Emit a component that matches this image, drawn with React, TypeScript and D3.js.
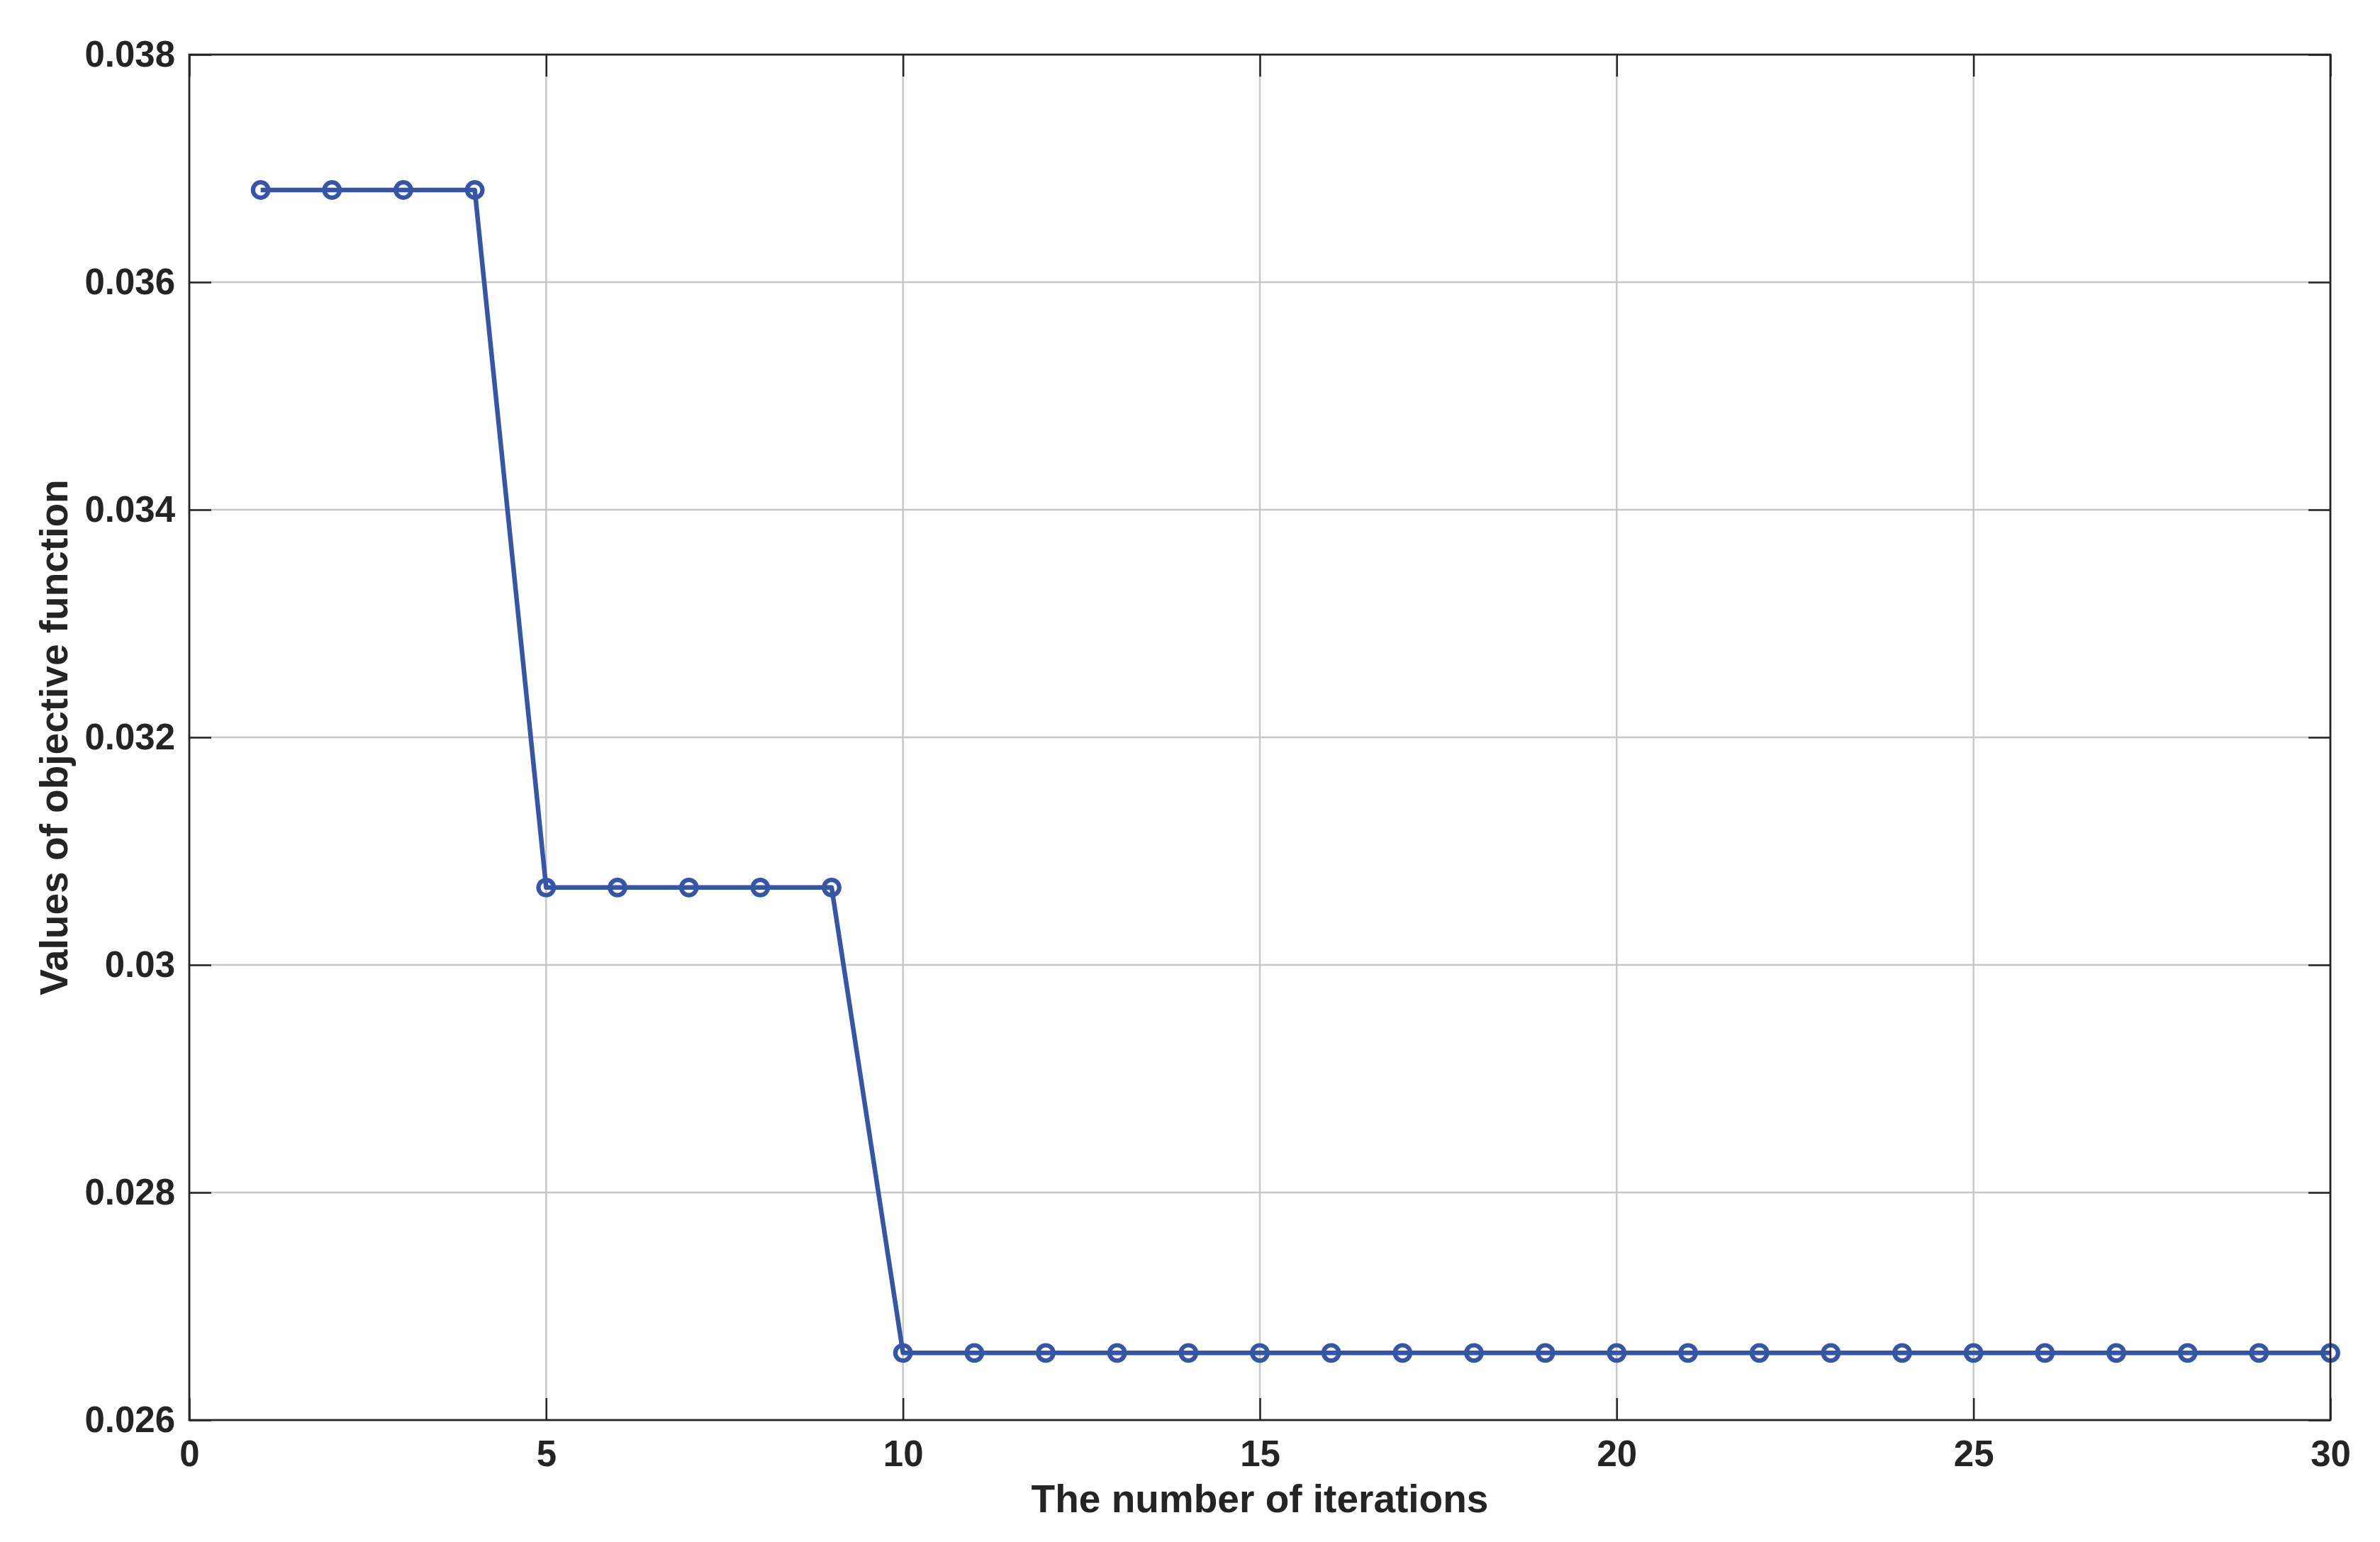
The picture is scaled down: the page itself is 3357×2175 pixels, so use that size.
import React, { useEffect, useRef } from "react";
import * as d3 from "d3";

// iteration index and best objective value at that iteration
const iterations = [
  1, 2, 3, 4, 5, 6, 7, 8, 9, 10, 11, 12, 13, 14, 15, 16, 17, 18, 19, 20, 21,
  22, 23, 24, 25, 26, 27, 28, 29, 30,
];
const objective = [
  0.03681, 0.03681, 0.03681, 0.03681, 0.03068, 0.03068, 0.03068, 0.03068,
  0.03068, 0.02659, 0.02659, 0.02659, 0.02659, 0.02659, 0.02659, 0.02659,
  0.02659, 0.02659, 0.02659, 0.02659, 0.02659, 0.02659, 0.02659, 0.02659,
  0.02659, 0.02659, 0.02659, 0.02659, 0.02659, 0.02659,
];

const xTicks = [0, 5, 10, 15, 20, 25, 30];
const yTicks = [0.026, 0.028, 0.03, 0.032, 0.034, 0.036, 0.038];
const yTickLabels = ["0.026", "0.028", "0.03", "0.032", "0.034", "0.036", "0.038"];

const xTitle = "The number of iterations";
const yTitle = "Values of objective function";

export default function App() {
  const svgRef = useRef<SVGSVGElement | null>(null);

  useEffect(() => {
    const svg = d3.select(svgRef.current);
    svg.selectAll("*").remove();

    const width = 3357,
      height = 2175;
    const left = 267,
      right = 3287,
      top = 77,
      bottom = 2003;

    const x = d3.scaleLinear().domain([0, 30]).range([left, right]);
    const y = d3.scaleLinear().domain([0.026, 0.038]).range([bottom, top]);

    const ink = "#242424";
    const blue = "#3555a6";
    const font = "'Liberation Sans', Arial, Helvetica, sans-serif";

    svg.attr("width", width).attr("height", height);
    svg.append("rect").attr("width", width).attr("height", height).attr("fill", "#fff");

    // grid
    const grid = svg.append("g").attr("stroke", "#c8c8c8").attr("stroke-width", 2.5);
    grid
      .selectAll("line.gx")
      .data(xTicks)
      .enter()
      .append("line")
      .attr("x1", (d) => x(d))
      .attr("x2", (d) => x(d))
      .attr("y1", top)
      .attr("y2", bottom);
    grid
      .selectAll("line.gy")
      .data(yTicks)
      .enter()
      .append("line")
      .attr("x1", left)
      .attr("x2", right)
      .attr("y1", (d) => y(d))
      .attr("y2", (d) => y(d));

    const pts = iterations.map((it, i) => [it, objective[i]] as [number, number]);

    const line = d3
      .line<[number, number]>()
      .x((d) => x(d[0]))
      .y((d) => y(d[1]));

    svg
      .append("path")
      .datum(pts)
      .attr("d", line)
      .attr("fill", "none")
      .attr("stroke", blue)
      .attr("stroke-width", 6.5)
      .attr("stroke-linejoin", "round");

    svg
      .append("g")
      .selectAll("circle")
      .data(pts)
      .enter()
      .append("circle")
      .attr("cx", (d) => x(d[0]))
      .attr("cy", (d) => y(d[1]))
      .attr("r", 10.8)
      .attr("fill", "none")
      .attr("stroke", blue)
      .attr("stroke-width", 6.2);

    // axes (ticks pointing inward, box on)
    const styleAxis = (g: any) => {
      g.select(".domain").remove();
      g.selectAll(".tick line").attr("stroke", ink).attr("stroke-width", 2.5);
      g.selectAll(".tick text")
        .attr("fill", ink)
        .attr("font-family", font)
        .attr("font-weight", "bold")
        .attr("font-size", 51);
    };

    svg
      .append("g")
      .attr("transform", `translate(0,${bottom})`)
      .call(d3.axisBottom(x).tickValues(xTicks).tickSize(-31).tickPadding(29).tickFormat(d3.format("d")) as any)
      .call(styleAxis);

    svg
      .append("g")
      .attr("transform", `translate(0,${top})`)
      .call(d3.axisTop(x).tickValues(xTicks).tickSize(-31).tickFormat(() => "") as any)
      .call(styleAxis);

    svg
      .append("g")
      .attr("transform", `translate(${left},0)`)
      .call(
        d3
          .axisLeft(y)
          .tickValues(yTicks)
          .tickSize(-31)
          .tickPadding(20)
          .tickFormat((_d, i) => yTickLabels[i]) as any
      )
      .call(styleAxis);

    svg
      .append("g")
      .attr("transform", `translate(${right},0)`)
      .call(d3.axisRight(y).tickValues(yTicks).tickSize(-31).tickFormat(() => "") as any)
      .call(styleAxis);

    svg
      .append("rect")
      .attr("x", left)
      .attr("y", top)
      .attr("width", right - left)
      .attr("height", bottom - top)
      .attr("fill", "none")
      .attr("stroke", ink)
      .attr("stroke-width", 2.7);

    svg
      .append("text")
      .attr("x", (left + right) / 2)
      .attr("y", 2133)
      .attr("text-anchor", "middle")
      .attr("font-family", font)
      .attr("font-weight", "bold")
      .attr("font-size", 55)
      .attr("fill", ink)
      .text(xTitle);

    svg
      .append("text")
      .attr("transform", "rotate(-90)")
      .attr("x", -(top + bottom) / 2)
      .attr("y", 95)
      .attr("text-anchor", "middle")
      .attr("font-family", font)
      .attr("font-weight", "bold")
      .attr("font-size", 55)
      .attr("fill", ink)
      .text(yTitle);
  }, []);

  return (
    <div style={{ position: "absolute", left: 0, top: 0 }}>
      <svg ref={svgRef} style={{ display: "block" }} />
    </div>
  );
}
